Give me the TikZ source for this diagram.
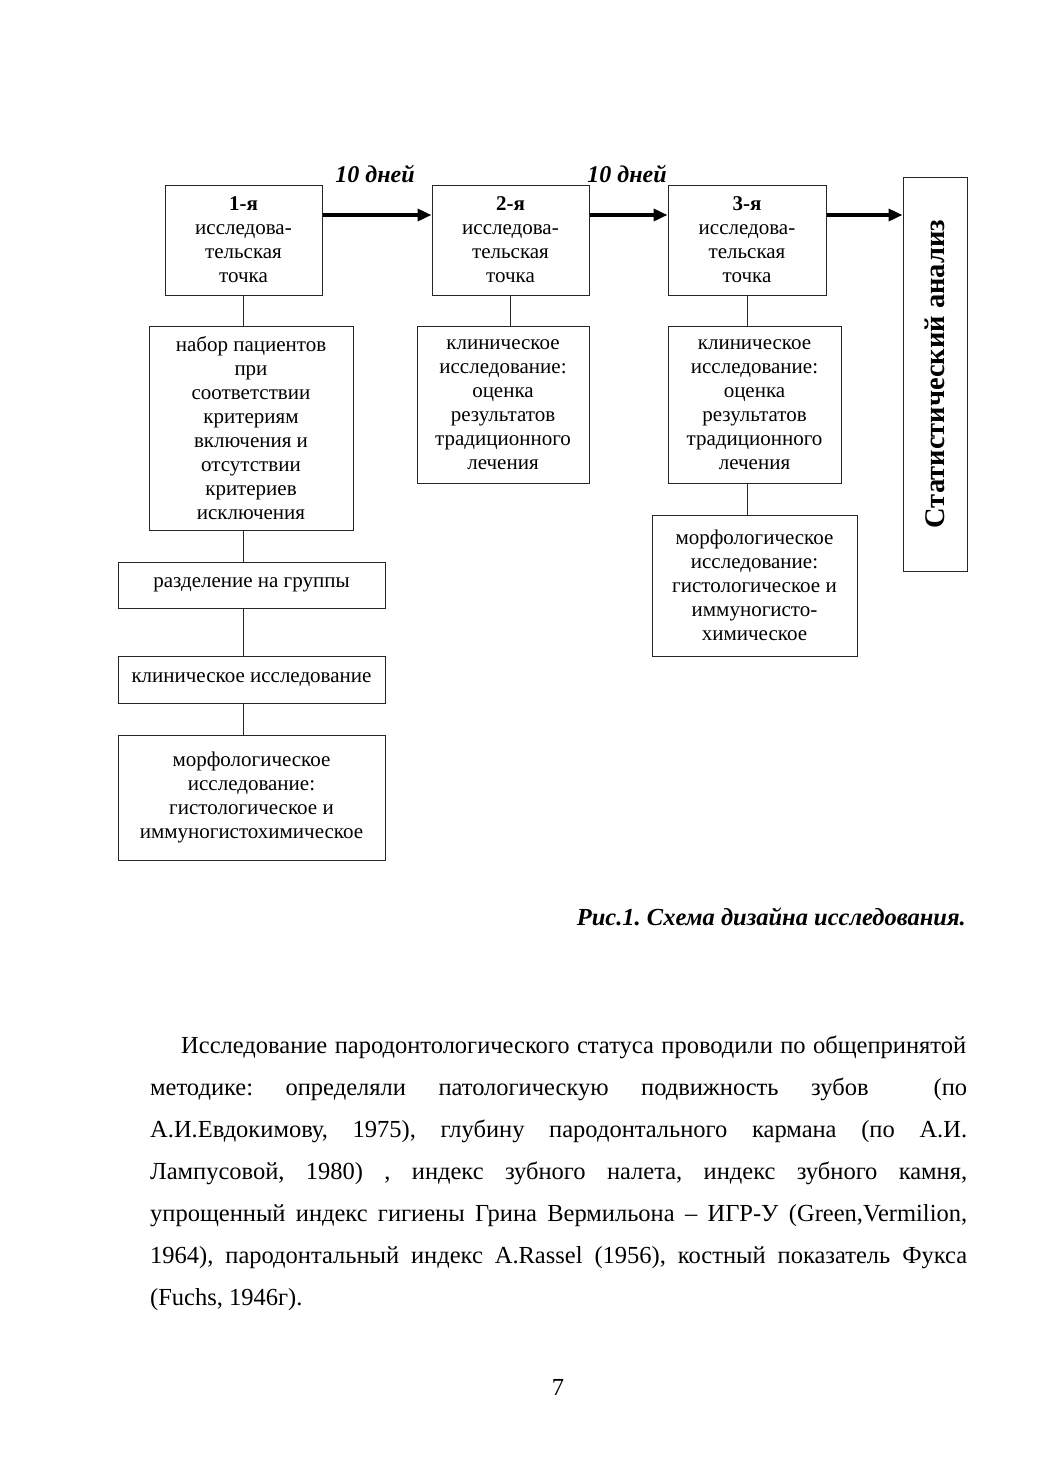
\documentclass[tikz,border=0pt]{standalone}
\usepackage{fontspec}
\setmainfont{Liberation Serif}
\usetikzlibrary{arrows.meta,calc}
\frenchspacing
\begin{document}
\begin{tikzpicture}[x=1pt,y=-1pt,
  box/.style={draw=black!85,line width=1pt,inner sep=0pt,align=center,font=\fontsize{21}{24}\selectfont},
  conn/.style={draw=black!85,line width=1pt},
  bigarrow/.style={line width=4pt,-{Triangle[length=14pt,width=12pt]}},
  days/.style={anchor=base,inner sep=0pt,font=\fontsize{24}{28}\selectfont\bfseries\itshape},
  para/.style={anchor=base west,inner sep=0pt,font=\fontsize{24.5}{29}\selectfont}]
\useasboundingbox[fill=white] (0,0) rectangle (1040,1473);

% top row
\node[box,minimum width=157pt,minimum height=110pt] (b1) at (243.5,240) {\textbf{1-я}\\исследова-\\тельская\\точка};
\node[box,minimum width=157pt,minimum height=110pt] (b2) at (510.5,240) {\textbf{2-я}\\исследова-\\тельская\\точка};
\node[box,minimum width=158pt,minimum height=110pt] (b3) at (747,240) {\textbf{3-я}\\исследова-\\тельская\\точка};
\node[box,minimum width=394pt,minimum height=64pt,rotate=90,font=\fontsize{28.5}{32}\selectfont\bfseries] (st) at (935,374) {Статистический анализ};

\node[days] (d1) at (375,182) {10 дней};
\node[days] (d2) at (627,182) {10 дней};

\draw[bigarrow] ([yshift=25pt]b1.east) -- ([yshift=25pt]b2.west);
\draw[bigarrow] ([yshift=25pt]b2.east) -- ([yshift=25pt]b3.west);
\draw[bigarrow] ([yshift=25pt]b3.east) -- ([yshift=25pt]b3.east -| st.north);

% column 1
\node[box,minimum width=204pt,minimum height=204pt] (n1) at (251,428) {набор пациентов\\при\\соответствии\\критериям\\включения и\\отсутствии\\критериев\\исключения};
\node[box,minimum width=267pt,minimum height=46pt] (n2) at (251.5,585) {разделение на группы};
\node[box,minimum width=267pt,minimum height=47pt] (n3) at (251.5,679.5) {клиническое исследование};
\node[box,minimum width=267pt,minimum height=125pt] (n4) at (251.5,797.5) {морфологическое\\исследование:\\гистологическое и\\иммуногистохимическое};

\draw[conn] (b1.south) -- (b1.south |- n1.north);
\draw[conn] (n1.south -| b1.south) -- (b1.south |- n2.north);
\draw[conn] (n2.south -| b1.south) -- (b1.south |- n3.north);
\draw[conn] (n3.south -| b1.south) -- (b1.south |- n4.north);

% column 2
\node[box,minimum width=172pt,minimum height=157pt] (c2) at (503,404.5) {клиническое\\исследование:\\оценка\\результатов\\традиционного\\лечения};
\draw[conn] (b2.south) -- (b2.south |- c2.north);

% column 3
\node[box,minimum width=173pt,minimum height=157pt] (c3) at (754.5,404.5) {клиническое\\исследование:\\оценка\\результатов\\традиционного\\лечения};
\node[box,minimum width=205pt,minimum height=141pt] (m3) at (754.5,585.5) {морфологическое\\исследование:\\гистологическое и\\иммуногисто-\\химическое};
\draw[conn] (b3.south) -- (b3.south |- c3.north);
\draw[conn] (c3.south -| b3.south) -- (b3.south |- m3.north);

% caption
\node[anchor=base east,inner sep=0pt,font=\fontsize{24.5}{29}\selectfont\bfseries\itshape] (cap) at (966,925) {Рис.1. Схема дизайна исследования.};

% paragraph
\node[para] (p1) at (181,1053) {\makebox[785pt][s]{Исследование пародонтологического статуса проводили по общепринятой}};
\node[para] (p2) at (150,1095) {\makebox[817pt][s]{методике: определяли патологическую подвижность зубов\ \ (по}};
\node[para] (p3) at (150,1137) {\makebox[817pt][s]{А.И.Евдокимову, 1975), глубину пародонтального кармана (по А.И.}};
\node[para] (p4) at (150,1179) {\makebox[817pt][s]{Лампусовой, 1980) , индекс зубного налета, индекс зубного камня,}};
\node[para] (p5) at (150,1221) {\makebox[817pt][s]{упрощенный индекс гигиены Грина Вермильона – ИГР-У (Green,Vermilion,}};
\node[para] (p6) at (150,1263) {\makebox[817pt][s]{1964), пародонтальный индекс A.Rassel (1956), костный показатель Фукса}};
\node[para] (p7) at (150,1305) {(Fuchs, 1946г).};

\node[anchor=base,inner sep=0pt,font=\fontsize{24.5}{29}\selectfont] (pg) at (558,1395) {7};
\end{tikzpicture}
\end{document}
